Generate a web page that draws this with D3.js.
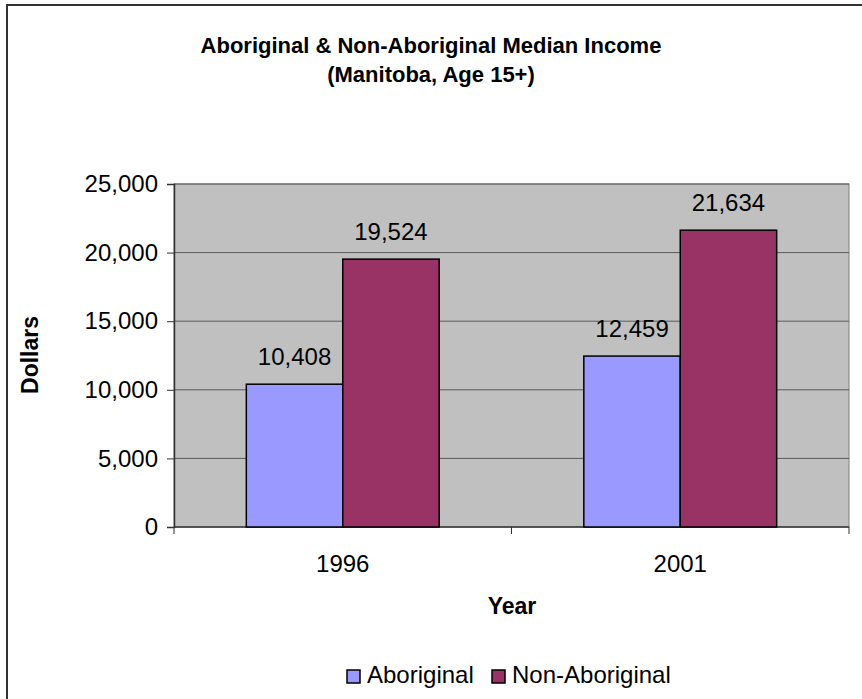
<!DOCTYPE html>
<html>
<head>
<meta charset="utf-8">
<script src="https://cdn.jsdelivr.net/npm/d3@7"></script>
<style>
  body { margin: 0; background: #fff; }
  svg { display: block; font-family: "Liberation Sans", Arial, sans-serif; }
</style>
</head>
<body>
<div id="chart"></div>
<script>
// Chart data
var years = ["1996", "2001"];
var seriesNames = ["Aboriginal", "Non-Aboriginal"];
var aboriginal = [10408, 12459];
var nonAboriginal = [19524, 21634];
var yTicks = [0, 5000, 10000, 15000, 20000, 25000];
var colors = ["#9999FF", "#993366"];

var width = 862;
var height = 699;

var svg = d3.select("#chart")
    .append("svg")
    .attr("width", width)
    .attr("height", height);

// Outer chart border (runs off the right and bottom edges)
svg.append("rect")
    .attr("x", 7).attr("y", 5)
    .attr("width", 880).attr("height", 720)
    .attr("fill", "none")
    .attr("stroke", "#333")
    .attr("stroke-width", 2);

// Plot area
var plot = { left: 174, top: 184, right: 849, bottom: 527 };

var x0 = d3.scaleBand()
    .domain(years)
    .range([plot.left, plot.right]);

// Excel style gap width 150%: two bars + 1.5 bar widths of gap per category
var barW = x0.bandwidth() / 3.5;

var y = d3.scaleLinear()
    .domain([0, 25000])
    .range([plot.bottom, plot.top]);

svg.append("rect")
    .attr("x", plot.left).attr("y", plot.top)
    .attr("width", plot.right - plot.left)
    .attr("height", plot.bottom - plot.top)
    .attr("fill", "#C0C0C0")
    .attr("stroke", "#808080")
    .attr("stroke-width", 1);

// Gridlines
svg.selectAll("line.grid")
    .data(yTicks.slice(1))
    .enter()
    .append("line")
    .attr("class", "grid")
    .attr("x1", plot.left).attr("x2", plot.right)
    .attr("y1", function(d) { return y(d); })
    .attr("y2", function(d) { return y(d); })
    .attr("stroke", "#5a5a5a")
    .attr("stroke-width", 1);

// Y axis
var yAxis = d3.axisLeft(y)
    .tickValues(yTicks)
    .tickSize(7)
    .tickPadding(9)
    .tickFormat(d3.format(","));

var gy = svg.append("g")
    .attr("transform", "translate(" + plot.left + ",0)")
    .call(yAxis);
gy.selectAll("line").attr("stroke", "#333");
gy.select(".domain").attr("stroke", "#333").attr("stroke-width", 1.5);
gy.selectAll("text")
    .style("font-size", "24px")
    .style("font-family", "'Liberation Sans', Arial, sans-serif")
    .attr("fill", "#000");

// X axis with ticks between categories
var gx = svg.append("g");
gx.append("line")
    .attr("x1", plot.left).attr("x2", plot.right)
    .attr("y1", plot.bottom).attr("y2", plot.bottom)
    .attr("stroke", "#333").attr("stroke-width", 1.5);
var boundaries = [plot.left].concat(years.map(function(d) { return x0(d) + x0.bandwidth(); }));
gx.selectAll("line.tick")
    .data(boundaries)
    .enter()
    .append("line")
    .attr("class", "tick")
    .attr("x1", function(d) { return d; })
    .attr("x2", function(d) { return d; })
    .attr("y1", plot.bottom).attr("y2", plot.bottom + 7)
    .attr("stroke", "#333");
gx.selectAll("text")
    .data(years)
    .enter()
    .append("text")
    .attr("x", function(d) { return x0(d) + x0.bandwidth() / 2; })
    .attr("y", 572)
    .attr("text-anchor", "middle")
    .style("font-size", "24px")
    .text(function(d) { return d; });

// Bars
var rows = years.map(function(yr, i) {
    return { year: yr, values: [aboriginal[i], nonAboriginal[i]] };
});

var groups = svg.selectAll("g.group")
    .data(rows)
    .enter()
    .append("g")
    .attr("class", "group");

function barX(d) {
    var c = x0(d.year) + x0.bandwidth() / 2;
    return c - barW + d.s * barW;
}

groups.selectAll("rect")
    .data(function(d) {
        return d.values.map(function(v, j) { return { year: d.year, value: v, s: j }; });
    })
    .enter()
    .append("rect")
    .attr("x", barX)
    .attr("y", function(d) { return y(d.value); })
    .attr("width", barW)
    .attr("height", function(d) { return plot.bottom - y(d.value); })
    .attr("fill", function(d) { return colors[d.s]; })
    .attr("stroke", "#000")
    .attr("stroke-width", 1.5);

// Value labels
groups.selectAll("text")
    .data(function(d) {
        return d.values.map(function(v, j) { return { year: d.year, value: v, s: j }; });
    })
    .enter()
    .append("text")
    .attr("x", function(d) { return barX(d) + barW / 2; })
    .attr("y", function(d) { return y(d.value) - 19; })
    .attr("text-anchor", "middle")
    .style("font-size", "24px")
    .text(function(d) { return d3.format(",")(d.value); });

// Title
var title = svg.append("text")
    .attr("text-anchor", "middle")
    .style("font-size", "22px")
    .style("font-weight", "bold");
title.append("tspan").attr("x", 431).attr("y", 53)
    .text("Aboriginal & Non-Aboriginal Median Income");
title.append("tspan").attr("x", 431).attr("y", 82)
    .text("(Manitoba, Age 15+)");

// Axis titles
svg.append("text")
    .attr("transform", "translate(38,355) rotate(-90)")
    .attr("text-anchor", "middle")
    .style("font-size", "23px")
    .style("font-weight", "bold")
    .text("Dollars");

svg.append("text")
    .attr("x", 512).attr("y", 614)
    .attr("text-anchor", "middle")
    .style("font-size", "23px")
    .style("font-weight", "bold")
    .text("Year");

// Legend
var legend = svg.append("g").attr("transform", "translate(347,670)");
var lx = [0, 145];
seriesNames.forEach(function(name, i) {
    legend.append("rect")
        .attr("x", lx[i]).attr("y", 0)
        .attr("width", 13).attr("height", 13)
        .attr("fill", colors[i])
        .attr("stroke", "#000")
        .attr("stroke-width", 1.5);
    legend.append("text")
        .attr("x", lx[i] + 20).attr("y", 13)
        .style("font-size", "24px")
        .text(name);
});
</script>
</body>
</html>
